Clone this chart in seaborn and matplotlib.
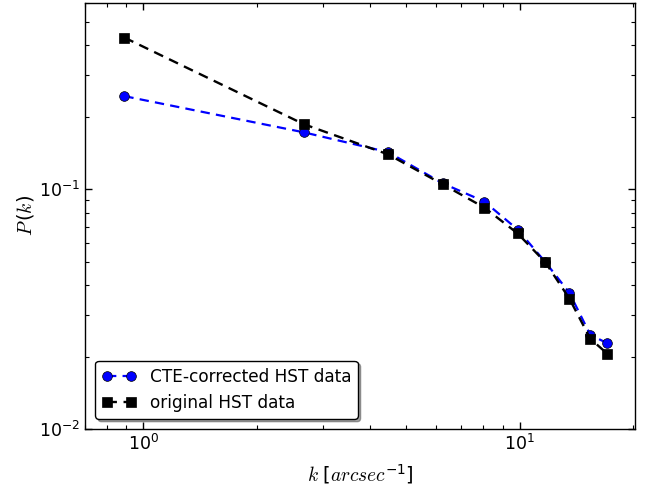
import matplotlib
matplotlib.use('Agg')
import matplotlib.pyplot as plt
import seaborn as sns
import pandas as pd

# power spectrum values
k_vals = [0.89, 2.67, 4.47, 6.24, 8.05, 9.87, 11.7, 13.55, 15.4, 17.1]
p_cte = [0.245, 0.173, 0.143, 0.106, 0.089, 0.068, 0.0497, 0.037, 0.0247, 0.0228]
p_orig = [0.43, 0.187, 0.140, 0.105, 0.084, 0.0655, 0.0496, 0.035, 0.0238, 0.0206]
labels = ['CTE-corrected HST data', 'original HST data']

sns.set_style('ticks')
plt.rcParams['font.family'] = ['DejaVu Sans']
plt.rcParams['mathtext.fontset'] = 'cm'
plt.rcParams['mathtext.default'] = 'regular'
plt.rcParams['text.color'] = 'black'
plt.rcParams['xtick.color'] = 'black'
plt.rcParams['ytick.color'] = 'black'
plt.rcParams['axes.labelcolor'] = 'black'

df_cte = pd.DataFrame({'k': k_vals, 'P': p_cte})
df_orig = pd.DataFrame({'k': k_vals, 'P': p_orig})

fig = plt.figure(figsize=(6.45, 4.87), dpi=100)
ax = fig.add_axes([0.132, 0.119, 0.852, 0.875])

dash = (0, (4.2, 2.8))
sns.lineplot(data=df_cte, x='k', y='P', ax=ax, color='blue', linestyle=dash,
             linewidth=1.6, marker='o', markersize=7, markeredgecolor='black',
             markeredgewidth=0.5, label=labels[0])
sns.lineplot(data=df_orig, x='k', y='P', ax=ax, color='black', linestyle=dash,
             linewidth=1.7, marker='s', markersize=7, markeredgecolor='black',
             markeredgewidth=0.5, label=labels[1])

ax.set_xscale('log')
ax.set_yscale('log')
ax.set_xlim(0.7, 20.2)
ax.set_ylim(0.01, 0.6)
ax.tick_params(which='both', top=True, right=True, direction='in', labelsize=12.5,
               colors='black')
ax.tick_params(which='major', length=5, width=1)
ax.tick_params(which='minor', length=3, width=0.8)
for s in ax.spines.values():
    s.set_linewidth(1)
    s.set_color('black')

ax.set_xlabel(r'$\mathit{k}\ [\mathit{arcsec}^{-1}]$', fontsize=14, labelpad=6)
ax.set_ylabel(r'$\mathit{P}\,(\mathit{k})$', fontsize=14, labelpad=2)

leg = ax.legend(loc='lower left', numpoints=2, fontsize=12.2, shadow=True,
                fancybox=True, framealpha=1, edgecolor='black',
                handlelength=2, borderaxespad=0.6)
leg.get_frame().set_linewidth(1)

fig.savefig('out.png', dpi=100)
